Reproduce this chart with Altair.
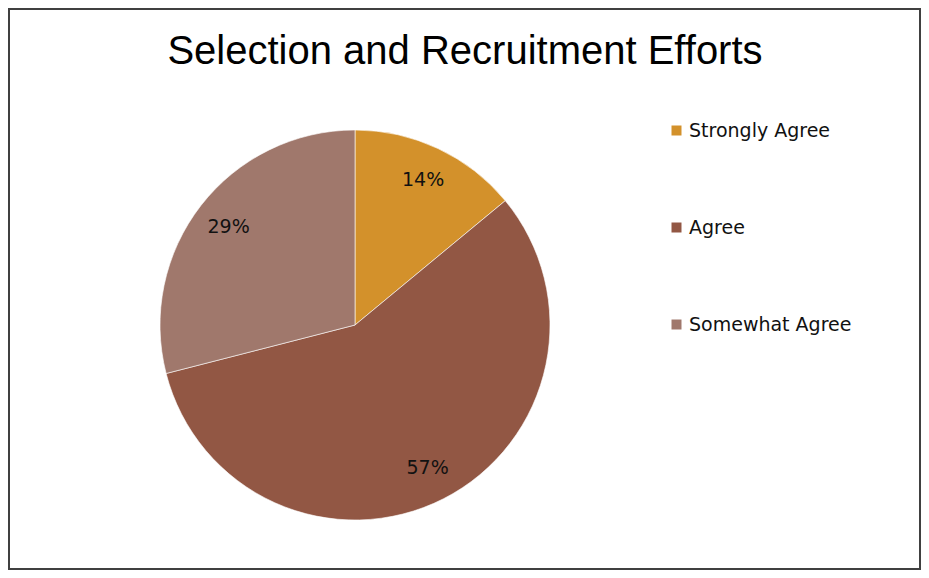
import altair as alt
import pandas as pd

categories = ["Strongly Agree", "Agree", "Somewhat Agree"]
values = [14, 57, 29]
labels = ["14%", "57%", "29%"]
colors = ["#D3912B", "#925744", "#A0786C"]
title_text = "Selection and Recruitment Efforts"

df = pd.DataFrame({
    "category": categories,
    "value": values,
    "label": labels,
    "order": list(range(len(categories))),
})

CX, CY = 346, 316

base = alt.Chart(df).encode(
    theta=alt.Theta("value:Q", stack=True),
    order=alt.Order("order:Q"),
)

pie = base.mark_arc(radius=195, stroke="white", strokeWidth=0.6).encode(
    color=alt.Color(
        "category:N",
        scale=alt.Scale(domain=categories, range=colors),
        legend=alt.Legend(
            title=None,
            orient="none",
            legendX=658,
            legendY=112,
            padding=0,
            symbolType="square",
            symbolSize=100,
            symbolStrokeWidth=0,
            labelFont="DejaVu Sans",
            labelFontSize=19,
            labelColor="#111111",
            labelOffset=3,
            labelLimit=300,
            rowPadding=77,
        ),
    ),
    x=alt.value(CX),
    y=alt.value(CY),
)

text = base.mark_text(radius=160, font="DejaVu Sans", fontSize=19, color="#111111").encode(
    text="label:N",
    x=alt.value(CX),
    y=alt.value(CY),
)

title = alt.Chart(pd.DataFrame({"t": [title_text]})).mark_text(
    font="Liberation Sans", fontSize=40, fontWeight=500, baseline="alphabetic", align="center", color="black"
).encode(text="t:N", x=alt.value(456), y=alt.value(55))

chart = alt.layer(pie, text, title).properties(
    width=911, height=560, autosize="none", padding=1
).configure_view(stroke="#404040", strokeWidth=2)

chart.save("out.html", embed_options={"renderer": "svg", "actions": False})
